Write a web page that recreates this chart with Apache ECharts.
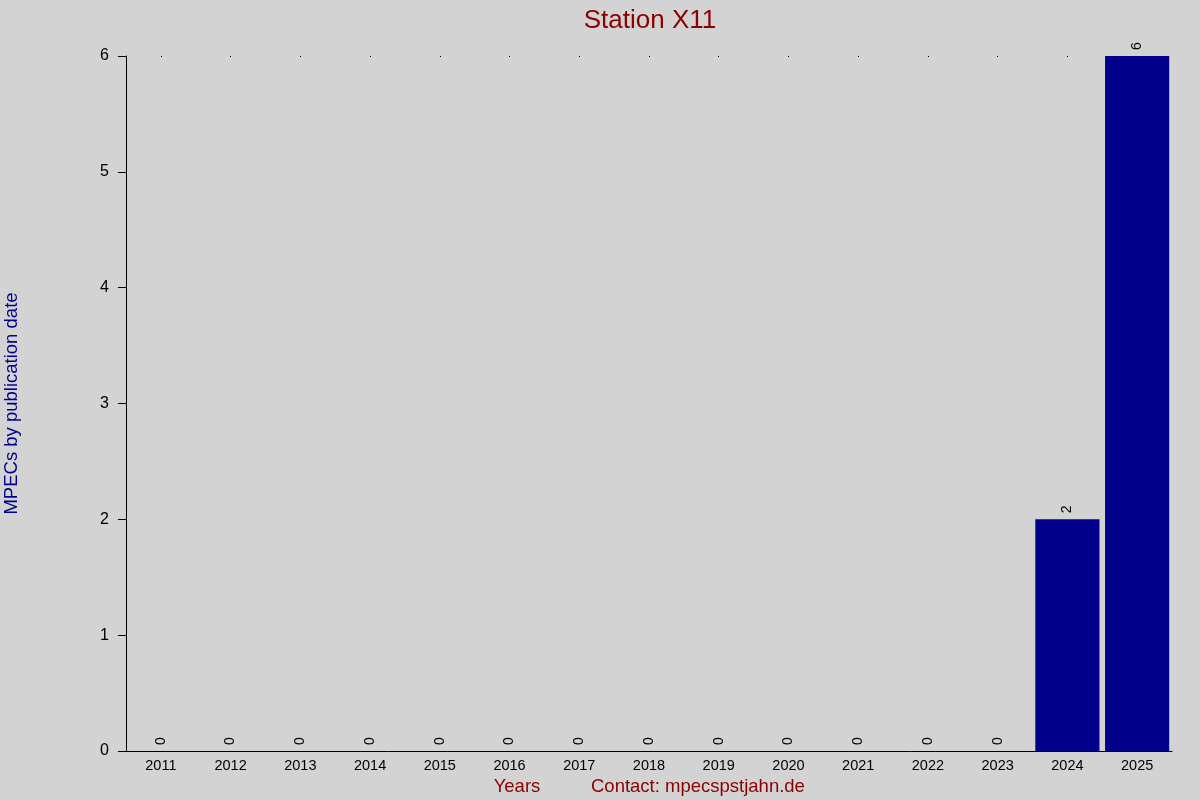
<!DOCTYPE html>
<html><head><meta charset="utf-8">
<script src="https://cdn.jsdelivr.net/npm/echarts@6/dist/echarts.min.js"></script>
<style>html,body{margin:0;padding:0;background:#d3d3d3;}#c{width:1200px;height:800px;}</style>
</head><body><div id="c"></div>
<script>
const years = ['2011','2012','2013','2014','2015','2016','2017','2018','2019','2020','2021','2022','2023','2024','2025'];
const mpecs = [0,0,0,0,0,0,0,0,0,0,0,0,0,2,6];
const yTicks = [0,1,2,3,4,5,6];

const chart = echarts.init(document.getElementById('c'));
const font = 'Liberation Sans, Arial, sans-serif';
chart.setOption({
  backgroundColor: '#d3d3d3',
  textStyle: {fontFamily: font},
  animation: false,
  title: [
    {text: 'Station X11', left: 645, top: 3, textAlign: 'center',
     textStyle: {color: '#8b0000', fontSize: 26, fontWeight: 'normal', fontFamily: font}},
    {text: 'Contact: mpecspstjahn.de', left: 586, top: 772,
     textStyle: {color: '#8b0000', fontSize: 18.5, fontWeight: 'normal', fontFamily: font}}
  ],
  grid: {left: 126, right: 28, top: 56, bottom: 49, containLabel: false, outerBoundsMode: 'none'},
  xAxis: [{
    type: 'category', data: years, position: 'bottom',
    name: 'Years', nameLocation: 'middle', nameGap: 26,
    nameTextStyle: {color: '#8b0000', fontSize: 18.5, padding: [0, 264, 0, 0]},
    axisLine: {lineStyle: {color: '#000', width: 1}},
    axisTick: {show: false},
    axisLabel: {color: '#000', fontSize: 14.5, margin: 7}
  }, {
    type: 'category', data: years, position: 'top',
    axisLine: {show: false},
    axisTick: {show: true, alignWithLabel: true, length: 1, inside: true, lineStyle: {color: '#000'}},
    axisLabel: {show: false}
  }],
  yAxis: {
    type: 'value', min: 0, max: 6, interval: 1,
    name: 'MPECs by publication date', nameLocation: 'middle', nameGap: 105,
    nameTextStyle: {color: '#00008b', fontSize: 18.5},
    axisLine: {show: true, lineStyle: {color: '#000'}},
    axisTick: {show: true, length: 8, lineStyle: {color: '#000'}},
    axisLabel: {color: '#000', fontSize: 16, margin: 17},
    splitLine: {show: false}
  },
  series: [{
    type: 'bar', data: mpecs, barCategoryGap: '8%',
    itemStyle: {color: '#00008b'},
    label: {show: true, position: 'top', rotate: 90, align: 'left', verticalAlign: 'middle',
            distance: 6, color: '#000', fontSize: 14}
  }]
});
</script></body></html>
